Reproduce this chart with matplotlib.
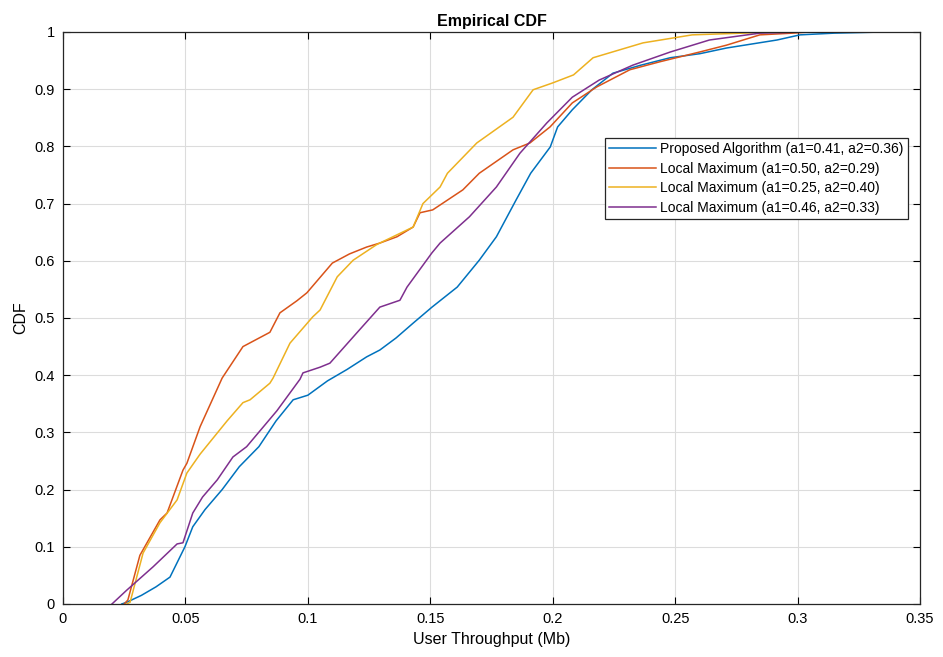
import matplotlib.pyplot as plt

plt.rcParams['font.family'] = ['Liberation Sans', 'DejaVu Sans']

# points (throughput, cdf)
prop_x = [0.024, 0.026, 0.032, 0.038, 0.0437, 0.0498, 0.053, 0.058, 0.065, 0.072, 0.080, 0.087, 0.094,
          0.100, 0.108, 0.116, 0.124, 0.1294, 0.136, 0.143, 0.1507, 0.161, 0.170, 0.177, 0.185, 0.191,
          0.199, 0.202, 0.208, 0.216, 0.2246, 0.236, 0.248, 0.260, 0.271, 0.2916, 0.301, 0.315, 0.335]
prop_y = [0.0, 0.003, 0.015, 0.03, 0.047, 0.10, 0.135, 0.165, 0.20, 0.24, 0.275, 0.32, 0.357,
          0.365, 0.39, 0.41, 0.432, 0.444, 0.465, 0.491, 0.519, 0.554, 0.601, 0.642, 0.706, 0.753,
          0.799, 0.834, 0.864, 0.899, 0.928, 0.942, 0.955, 0.962, 0.972, 0.986, 0.995, 0.998, 1.0]

lm1_x = [0.025, 0.0265, 0.0314, 0.0396, 0.0425, 0.049, 0.0506, 0.056, 0.065, 0.0735, 0.0845, 0.0886,
         0.0955, 0.0996, 0.110, 0.117, 0.124, 0.1294, 0.1364, 0.143, 0.1458, 0.151, 0.1633, 0.170,
         0.1838, 0.1907, 0.1989, 0.208, 0.218, 0.2315, 0.2438, 0.260, 0.271, 0.2846, 0.298, 0.305]
lm1_y = [0.0, 0.007, 0.085, 0.147, 0.159, 0.234, 0.246, 0.31, 0.395, 0.45, 0.475, 0.509,
         0.53, 0.544, 0.596, 0.612, 0.624, 0.631, 0.642, 0.659, 0.684, 0.689, 0.724, 0.753,
         0.794, 0.806, 0.834, 0.876, 0.904, 0.934, 0.948, 0.965, 0.977, 0.995, 0.998, 1.0]

lm2_x = [0.026, 0.0274, 0.0327, 0.0396, 0.0466, 0.0506, 0.056, 0.067, 0.0735, 0.0764, 0.0845, 0.0858,
         0.0927, 0.102, 0.105, 0.112, 0.1185, 0.128, 0.1294, 0.143, 0.147, 0.154, 0.157, 0.169,
         0.1838, 0.192, 0.200, 0.2085, 0.2165, 0.2369, 0.257, 0.2846, 0.29]
lm2_y = [0.0, 0.003, 0.089, 0.142, 0.182, 0.229, 0.262, 0.32, 0.352, 0.357, 0.386, 0.395,
         0.456, 0.502, 0.514, 0.572, 0.601, 0.628, 0.631, 0.659, 0.70, 0.729, 0.753, 0.806,
         0.851, 0.899, 0.911, 0.925, 0.955, 0.981, 0.995, 0.999, 1.0]

lm3_x = [0.020, 0.026, 0.0368, 0.0466, 0.049, 0.053, 0.057, 0.063, 0.0694, 0.075, 0.0874, 0.0968,
         0.098, 0.105, 0.109, 0.120, 0.1294, 0.1376, 0.1405, 0.1507, 0.154, 0.166, 0.177, 0.1866,
         0.1976, 0.208, 0.219, 0.2327, 0.248, 0.264, 0.2846, 0.295, 0.30]
lm3_y = [0.0, 0.024, 0.065, 0.105, 0.107, 0.159, 0.187, 0.217, 0.257, 0.275, 0.338, 0.393,
         0.404, 0.414, 0.421, 0.474, 0.519, 0.531, 0.554, 0.614, 0.631, 0.677, 0.729, 0.788,
         0.841, 0.886, 0.916, 0.942, 0.965, 0.986, 0.998, 0.999, 1.0]

labels = ['Proposed Algorithm (a1=0.41, a2=0.36)',
          'Local Maximum (a1=0.50, a2=0.29)',
          'Local Maximum (a1=0.25, a2=0.40)',
          'Local Maximum (a1=0.46, a2=0.33)']
colors = ['#0072BD', '#D95319', '#EDB120', '#7E2F8E']
xticks = [0, 0.05, 0.1, 0.15, 0.2, 0.25, 0.3, 0.35]
xtick_labels = ['0', '0.05', '0.1', '0.15', '0.2', '0.25', '0.3', '0.35']
yticks = [0, 0.1, 0.2, 0.3, 0.4, 0.5, 0.6, 0.7, 0.8, 0.9, 1]
ytick_labels = ['0', '0.1', '0.2', '0.3', '0.4', '0.5', '0.6', '0.7', '0.8', '0.9', '1']

fig = plt.figure(figsize=(9.43, 6.57), dpi=100)
ax = fig.add_axes([0.0668, 0.0807, 0.9088, 0.8706])

series = [(prop_x, prop_y), (lm1_x, lm1_y), (lm2_x, lm2_y), (lm3_x, lm3_y)]
for (xs, ys), c, lab in zip(series, colors, labels):
    ax.plot(xs, ys, color=c, lw=1.1, label=lab)

ax.set_xlim(0, 0.35)
ax.set_ylim(0, 1)
ax.set_xticks(xticks)
ax.set_xticklabels(xtick_labels)
ax.set_yticks(yticks)
ax.set_yticklabels(ytick_labels)
ax.tick_params(direction='in', top=True, right=True, labelsize=10.5, length=5, width=0.8, pad=6)
ax.grid(True, color='#dcdcdc', lw=0.8)
ax.set_axisbelow(True)
for s in ax.spines.values():
    s.set_linewidth(0.9)
    s.set_color('#262626')

ax.set_title('Empirical CDF', fontsize=11.5, fontweight='bold', pad=4)
ax.set_xlabel('User Throughput (Mb)', fontsize=11.5, labelpad=4)
ax.set_ylabel('CDF', fontsize=11.5, labelpad=4)

leg = ax.legend(loc='upper right', bbox_to_anchor=(0.986, 0.815), fontsize=10, frameon=True,
                fancybox=False, edgecolor='#262626', framealpha=1, handlelength=3.4,
                borderpad=0.3, labelspacing=0.4, handletextpad=0.3, borderaxespad=0)
leg.get_frame().set_linewidth(0.9)

fig.savefig('out.png', dpi=100)
